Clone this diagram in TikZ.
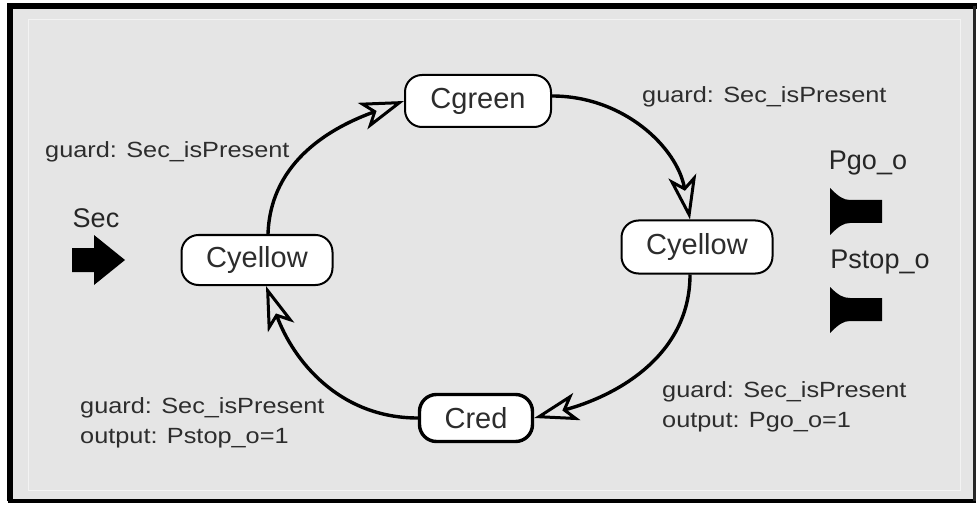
\documentclass[tikz,border=0pt]{standalone}
\usepackage{fontspec}
\setmainfont{Liberation Sans}
\usetikzlibrary{arrows.meta}
\definecolor{panel}{RGB}{229,229,229}
\definecolor{ink}{RGB}{45,45,45}
\begin{document}
\begin{tikzpicture}[x=1pt,y=1pt,
  state/.style={draw=black, fill=white, rounded corners=17pt, line width=2pt,
    inner sep=0pt, font=\fontsize{29}{32}\selectfont, text=ink},
  trans/.style={line width=3.4pt,
    -{Stealth[open, length=44pt, width=28pt, inset=11pt, line width=3pt]}},
  lbl/.style={font=\fontsize{22}{30}\selectfont, text=ink, align=left,
    inner sep=0pt, xscale=1.15, anchor=west},
  portlbl/.style={font=\fontsize{27}{30}\selectfont, text=black!85, inner sep=0pt},
  portshape/.style={fill=black}
]
\useasboundingbox (0,0) rectangle (977,-505);
% panel and frame
\fill[white] (0,0) rectangle (977,-505);
\fill[panel] (10,-7) rectangle (974,-500);
\draw[white!55!panel, line width=1pt] (28,-20) rectangle (960,-490);
\draw[line width=6pt] (10,-501) -- (10,-6.5) -- (977,-6.5);
\draw[line width=4pt] (8,-501) -- (976,-501);
\draw[black!85, line width=2.5pt] (974.5,-6) -- (974.5,-501);

% states
\node[state, minimum width=146pt, minimum height=52pt] (cg) at (478,-101) {Cgreen};
\node[state, minimum width=151pt, minimum height=53pt] (rcy) at (697,-247) {Cyellow};
\node[state, minimum width=151pt, minimum height=50pt] (lcy) at (257,-260) {Cyellow};
\node[state, line width=3.4pt, minimum width=113pt, minimum height=47pt] (cr) at (476,-418) {Cred};

% transitions
\draw[trans] ([xshift=11pt]lcy.north) to[out=88,in=200] (cg.west);
\draw[trans] ([yshift=5pt]cg.east) to[out=0,in=100] ([xshift=-7pt]rcy.north);
\draw[trans] ([xshift=-7pt]rcy.south) to[out=-90,in=15] (cr.east);
\draw[trans] (cr.west) to[out=180,in=-70] ([xshift=9pt]lcy.south);

% transition labels
\node[lbl] (g1) at (45,-152) {guard: Sec\_isPresent};
\node[lbl] (g2) at (642,-97) {guard: Sec\_isPresent};
\node[lbl] (g3) at (662,-407) {guard: Sec\_isPresent\\output: Pgo\_o=1};
\node[lbl] (g4) at (80,-423) {guard: Sec\_isPresent\\output: Pstop\_o=1};

% input port
\node[portlbl] (sec) at (96,-218) {Sec};
\fill[portshape] (72,-248) -- (94,-248) -- (94,-235) -- (125,-260) -- (94,-285)
  -- (94,-272) -- (72,-272) -- cycle;

% output ports
\node[portlbl] (pgo) at (868,-163) {Pgo\_o};
\fill[portshape] (830,-188) .. controls (838,-196) and (843,-200) .. (850,-200)
  -- (882,-200) -- (882,-223) -- (850,-223)
  .. controls (843,-223) and (838,-227) .. (830,-235) -- cycle;
\node[portlbl] (pstop) at (880,-262) {Pstop\_o};
\fill[portshape] (830,-287) .. controls (838,-295) and (843,-298) .. (850,-298)
  -- (882,-298) -- (882,-321) -- (850,-321)
  .. controls (843,-321) and (838,-325) .. (830,-333) -- cycle;
\end{tikzpicture}
\end{document}
